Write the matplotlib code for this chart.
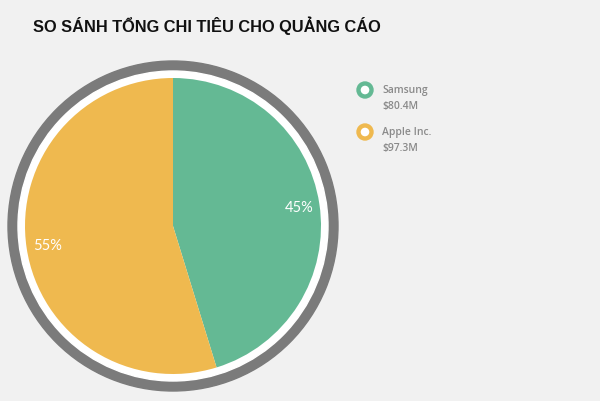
import matplotlib.pyplot as plt
from matplotlib.patches import Circle, Wedge

title = 'SO SÁNH TỔNG CHI TIÊU CHO QUẢNG CÁO'
companies = ['Samsung', 'Apple Inc.']
spend = [80.4, 97.3]
spend_labels = ['$80.4M', '$97.3M']
colors = ['#64b994', '#efb94f']

bg = '#f1f1f1'
fig = plt.figure(figsize=(6, 4.02), dpi=100, facecolor=bg)

# overlay in pixel coords for title + legend
ov = fig.add_axes([0, 0, 1, 1])
ov.set_xlim(0, 600)
ov.set_ylim(402, 0)
ov.axis('off')
ov.text(33, 26, title, fontsize=11.8, fontweight='bold', family='Liberation Sans',
        color='#111111', va='center', ha='left')

for i, (name, lab, col) in enumerate(zip(companies, spend_labels, colors)):
    y = 91 + i * 42
    ov.add_patch(Circle((365, y), 8, color=col))
    ov.add_patch(Circle((365, y), 3.6, color='white'))
    ov.text(382, y, name, fontsize=7.5, family='Open Sans', fontweight='semibold',
            color='#8a8a8a', va='center')
    ov.text(382, y + 16, lab, fontsize=7.5, family='Open Sans', fontweight='semibold',
            color='#8a8a8a', va='center')

# pie, 1 unit = 1 px
cx, cy, half = 173, 227, 170
ax = fig.add_axes([(cx - half) / 600, (402 - cy - half) / 402, 2 * half / 600, 2 * half / 402])
ax.add_patch(Wedge((0, 0), 165, 0, 360, width=10, color='#7b7b7b'))
ax.add_patch(Circle((0, 0), 155, color='white'))
wedges, texts, autotexts = ax.pie(spend, colors=colors, radius=148, startangle=90,
                                  counterclock=False, autopct='%.0f%%', pctdistance=0.86,
                                  frame=True)
ax.set_xlim(-half, half)
ax.set_ylim(-half, half)
ax.set_aspect('equal')
ax.axis('off')
for t in autotexts:
    t.set_color('white')
    t.set_fontsize(10.5)
    t.set_family('Lato')

fig.savefig('out.png', dpi=100, facecolor=bg)
